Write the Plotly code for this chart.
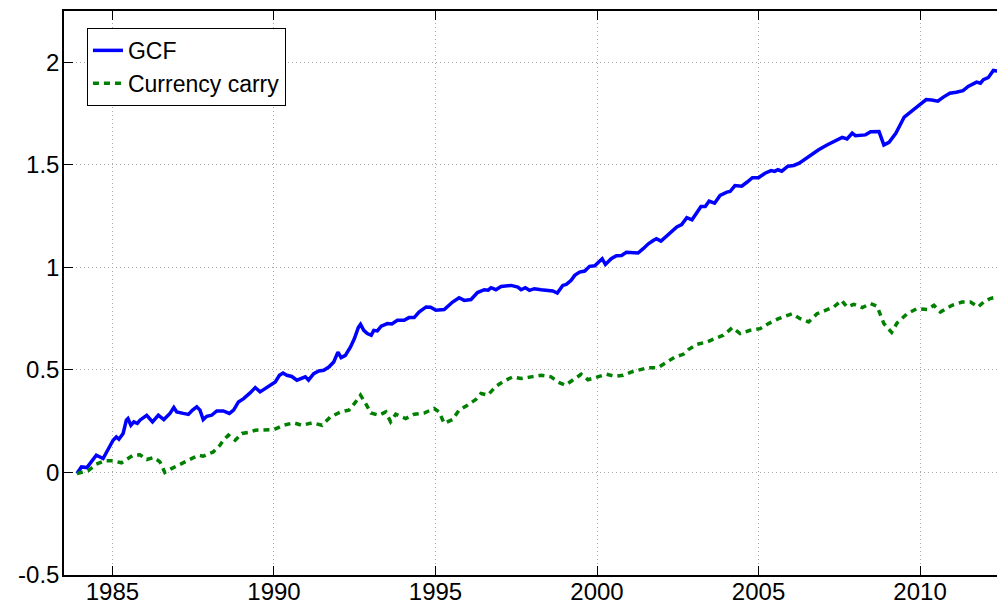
import plotly.graph_objects as go

# GCF cumulative return (year, value)
gcf_year = [1983.90, 1984.04, 1984.21, 1984.50, 1984.71, 1984.86, 1985.02, 1985.12, 1985.20, 1985.33,
            1985.43, 1985.48, 1985.57, 1985.66, 1985.77, 1985.85, 1986.06, 1986.24, 1986.42, 1986.59,
            1986.78, 1986.90, 1986.99, 1987.19, 1987.35, 1987.48, 1987.61, 1987.71, 1987.81, 1987.92,
            1988.07, 1988.23, 1988.43, 1988.62, 1988.75, 1988.90, 1989.06, 1989.26, 1989.42, 1989.57,
            1989.73, 1989.89, 1990.04, 1990.17, 1990.28, 1990.40, 1990.55, 1990.71, 1990.97, 1991.07,
            1991.23, 1991.39, 1991.54, 1991.70, 1991.85, 1991.98, 1992.08, 1992.21, 1992.37, 1992.49,
            1992.61, 1992.68, 1992.78, 1992.89, 1993.01, 1993.09, 1993.20, 1993.32, 1993.51, 1993.65,
            1993.82, 1994.03, 1994.18, 1994.34, 1994.49, 1994.71, 1994.85, 1995.01, 1995.27, 1995.53,
            1995.73, 1995.89, 1996.10, 1996.30, 1996.51, 1996.63, 1996.72, 1996.87, 1997.03, 1997.34,
            1997.55, 1997.65, 1997.78, 1997.91, 1998.06, 1998.27, 1998.48, 1998.63, 1998.77, 1998.94,
            1999.05, 1999.20, 1999.31, 1999.46, 1999.62, 1999.77, 1999.93, 2000.08, 2000.16, 2000.26,
            2000.44, 2000.60, 2000.76, 2000.91, 2001.12, 2001.27, 2001.43, 2001.59, 2001.74, 2001.84,
            2001.98, 2002.10, 2002.26, 2002.47, 2002.62, 2002.78, 2002.94, 2003.09, 2003.22, 2003.35,
            2003.47, 2003.64, 2003.81, 2004.02, 2004.12, 2004.27, 2004.48, 2004.64, 2004.81, 2005.00,
            2005.20, 2005.39, 2005.50, 2005.60, 2005.72, 2005.91, 2006.09, 2006.26, 2006.45, 2006.66,
            2006.86, 2007.12, 2007.38, 2007.59, 2007.74, 2007.90, 2008.00, 2008.15, 2008.31, 2008.47,
            2008.73, 2008.88, 2009.04, 2009.25, 2009.51, 2009.77, 2009.98, 2010.19, 2010.36, 2010.55,
            2010.71, 2010.92, 2011.12, 2011.33, 2011.49, 2011.75, 2011.87, 2011.96, 2012.11, 2012.27,
            2012.42, 2012.53, 2012.65]
gcf_value = [-0.005, 0.027, 0.024, 0.084, 0.068, 0.109, 0.157, 0.173, 0.162, 0.190,
             0.255, 0.263, 0.230, 0.247, 0.239, 0.255, 0.279, 0.247, 0.279, 0.258,
             0.288, 0.317, 0.295, 0.288, 0.283, 0.304, 0.320, 0.304, 0.258, 0.274,
             0.279, 0.300, 0.300, 0.288, 0.304, 0.344, 0.360, 0.388, 0.414, 0.393,
             0.409, 0.425, 0.441, 0.474, 0.485, 0.474, 0.468, 0.450, 0.466, 0.450,
             0.482, 0.495, 0.498, 0.514, 0.539, 0.587, 0.560, 0.571, 0.612, 0.653,
             0.706, 0.722, 0.693, 0.677, 0.669, 0.693, 0.690, 0.713, 0.726, 0.724,
             0.742, 0.742, 0.755, 0.755, 0.782, 0.807, 0.806, 0.791, 0.794, 0.831,
             0.852, 0.839, 0.843, 0.877, 0.891, 0.889, 0.901, 0.891, 0.907, 0.912,
             0.904, 0.891, 0.901, 0.888, 0.896, 0.891, 0.888, 0.885, 0.875, 0.912,
             0.917, 0.937, 0.961, 0.977, 0.982, 1.005, 1.008, 1.031, 1.042, 1.014,
             1.042, 1.057, 1.058, 1.074, 1.074, 1.070, 1.091, 1.115, 1.131, 1.140,
             1.128, 1.145, 1.168, 1.197, 1.209, 1.242, 1.232, 1.269, 1.297, 1.297,
             1.323, 1.313, 1.351, 1.367, 1.370, 1.399, 1.396, 1.415, 1.437, 1.437,
             1.459, 1.472, 1.468, 1.476, 1.469, 1.493, 1.497, 1.508, 1.529, 1.550,
             1.573, 1.597, 1.615, 1.634, 1.626, 1.654, 1.642, 1.645, 1.646, 1.661,
             1.662, 1.597, 1.610, 1.654, 1.733, 1.765, 1.794, 1.818, 1.816, 1.810,
             1.829, 1.849, 1.854, 1.862, 1.882, 1.903, 1.898, 1.915, 1.925, 1.960,
             1.957, 1.947, 1.985]

# Currency carry cumulative return (year, value)
carry_year = [1983.90, 1984.24, 1984.50, 1984.76, 1985.02, 1985.28, 1985.64, 1985.85, 1986.06, 1986.28,
              1986.47, 1986.62, 1986.83, 1987.30, 1987.66, 1987.81, 1988.12, 1988.33, 1988.43, 1988.59,
              1988.80, 1989.01, 1989.20, 1989.42, 1989.68, 1989.99, 1990.30, 1990.61, 1990.87, 1991.18,
              1991.49, 1991.75, 1992.06, 1992.32, 1992.53, 1992.68, 1992.84, 1993.00, 1993.25, 1993.46,
              1993.61, 1993.77, 1994.08, 1994.34, 1994.65, 1994.96, 1995.11, 1995.27, 1995.53, 1995.73,
              1995.99, 1996.25, 1996.41, 1996.62, 1996.87, 1997.13, 1997.39, 1997.65, 1997.96, 1998.27,
              1998.58, 1998.79, 1999.02, 1999.25, 1999.51, 1999.72, 2000.03, 2000.29, 2000.55, 2000.81,
              2001.07, 2001.32, 2001.58, 2001.89, 2002.15, 2002.41, 2002.67, 2002.83, 2003.09, 2003.40,
              2003.65, 2003.91, 2004.19, 2004.43, 2004.74, 2005.05, 2005.31, 2005.62, 2006.04, 2006.29,
              2006.55, 2006.81, 2007.07, 2007.33, 2007.57, 2007.74, 2007.95, 2008.21, 2008.47, 2008.67,
              2008.88, 2009.12, 2009.29, 2009.60, 2009.91, 2010.22, 2010.43, 2010.63, 2010.99, 2011.30,
              2011.56, 2011.80, 2011.97, 2012.17, 2012.60]
carry_value = [-0.005, 0.008, 0.040, 0.057, 0.057, 0.047, 0.084, 0.086, 0.063, 0.073,
               0.052, 0.000, 0.019, 0.057, 0.084, 0.079, 0.100, 0.133, 0.157, 0.182,
               0.157, 0.190, 0.195, 0.206, 0.209, 0.209, 0.230, 0.242, 0.230, 0.242,
               0.230, 0.271, 0.295, 0.304, 0.344, 0.377, 0.336, 0.290, 0.279, 0.295,
               0.247, 0.284, 0.263, 0.284, 0.290, 0.312, 0.295, 0.239, 0.258, 0.304,
               0.328, 0.356, 0.385, 0.377, 0.420, 0.446, 0.466, 0.458, 0.466, 0.474,
               0.466, 0.441, 0.425, 0.452, 0.479, 0.452, 0.466, 0.479, 0.469, 0.474,
               0.490, 0.502, 0.511, 0.511, 0.539, 0.563, 0.576, 0.599, 0.625, 0.636,
               0.653, 0.669, 0.706, 0.677, 0.693, 0.701, 0.726, 0.750, 0.774, 0.750,
               0.734, 0.774, 0.790, 0.807, 0.839, 0.807, 0.820, 0.804, 0.823, 0.810,
               0.726, 0.683, 0.729, 0.774, 0.799, 0.794, 0.815, 0.782, 0.815, 0.831,
               0.831, 0.807, 0.831, 0.848, 0.864]

x_ticks = [1985, 1990, 1995, 2000, 2005, 2010]
y_ticks = [-0.5, 0, 0.5, 1, 1.5, 2]
y_tick_text = ["-0.5", "0", "0.5", "1", "1.5", "2"]

FONT = "Liberation Sans, Arial, sans-serif"

fig = go.Figure()
fig.add_trace(go.Scatter(x=gcf_year, y=gcf_value, mode="lines", name="GCF",
                         line=dict(color="#0000ff", width=3.5)))
fig.add_trace(go.Scatter(x=carry_year, y=carry_value, mode="lines", name="Currency carry",
                         line=dict(color="#008000", width=3.5, dash="6px,5px")))

# The page body adds an 8px offset, so the figure is sized to end at the window edge.
fig.update_layout(
    template="none",
    width=997, height=597,
    margin=dict(l=56, r=0, t=3, b=30, autoexpand=False),
    paper_bgcolor="white", plot_bgcolor="white",
    font=dict(family=FONT, size=24, color="black"),
    showlegend=True,
    legend=dict(x=0.0244, y=0.97, xanchor="left", yanchor="top",
                bordercolor="black", borderwidth=1, bgcolor="white",
                font=dict(family=FONT, size=23, color="black"),
                tracegroupgap=0, itemwidth=30),
    xaxis=dict(range=[1983.5, 2012.63], tickvals=x_ticks, ticks="inside", ticklen=9,
               tickcolor="black", tickwidth=1, showline=True, linecolor="black", linewidth=1.5,
               mirror="ticks", showgrid=True, gridcolor="#a8a8a8", griddash="1px,3px", gridwidth=1,
               zeroline=False, automargin=False, ticklabelstandoff=-6,
               tickfont=dict(family=FONT, size=24, color="black")),
    yaxis=dict(range=[-0.5, 2.25], tickvals=y_ticks, ticktext=y_tick_text, ticks="inside",
               ticklen=9, tickcolor="black", tickwidth=1, showline=True, linecolor="black",
               linewidth=1.5, showgrid=True, gridcolor="#a8a8a8", griddash="1px,3px", gridwidth=1,
               zeroline=False, automargin=False, ticklabelstandoff=-2,
               tickfont=dict(family=FONT, size=24, color="black")),
)

fig.write_html("out.html")
